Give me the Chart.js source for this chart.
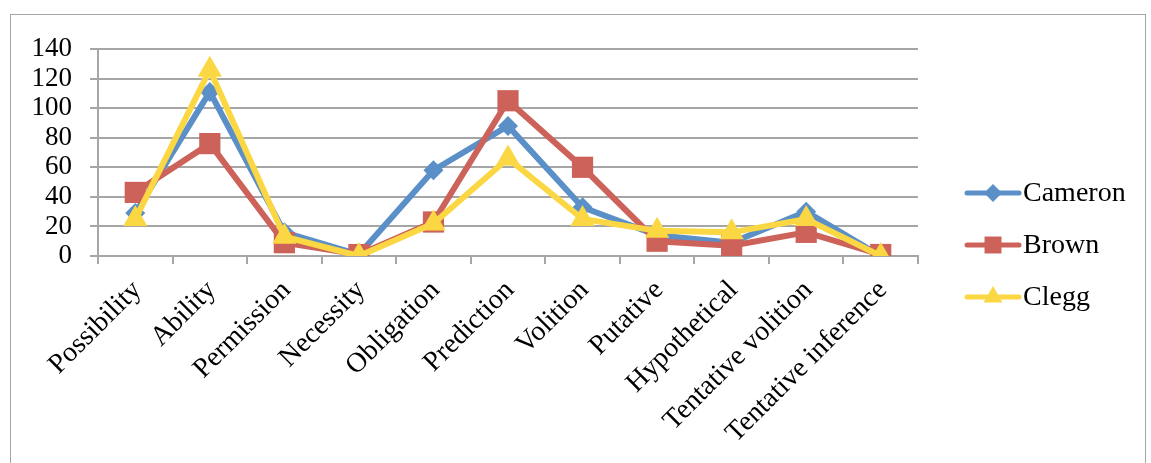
<!DOCTYPE html>
<html>
<head>
<meta charset="utf-8">
<script src="https://cdn.jsdelivr.net/npm/chart.js@4"></script>
<style>
  html, body { margin: 0; padding: 0; background: #fff; }
  #wrap { position: relative; width: 1151px; height: 463px; overflow: hidden; }
  #frame { position: absolute; left: 10px; top: 14px; width: 1136px; height: 480px; border: 1.5px solid #a6a6a6; box-sizing: border-box; }
  canvas { position: absolute; left: 0; top: 0; }
</style>
</head>
<body>
<div id="wrap">
  <div id="frame"></div>
  <canvas id="line-chart" width="1151" height="463"></canvas>
</div>
<script>
var categorie = ["Possibility", "Ability", "Permission", "Necessity", "Obligation", "Prediction",
  "Volition", "Putative", "Hypothetical", "Tentative volition", "Tentative inference"];
var cameron = [29, 111, 16, 1, 58, 88, 33, 14, 9, 30, 0];
var brown = [43, 76, 9, 1, 23, 105, 60, 10, 7, 16, 1];
var clegg = [25, 126, 13, 0, 22, 66, 25, 17, 16, 25, 0];

var serie = [
  { label: "Cameron", dati: cameron, colore: "#5A8FC8", stile: "rectRot", raggio: 10, raggioLeg: 9 },
  { label: "Brown", dati: brown, colore: "#CC6259", stile: "rect", raggio: 15, raggioLeg: 12 },
  { label: "Clegg", dati: clegg, colore: "#FBD843", stile: "triangle", raggio: 14, raggioLeg: 11 }
];

var font = "'Liberation Serif', 'Times New Roman', serif";

var legendaPlugin = {
  id: 'legenda',
  afterDraw: function(chart) {
    var ctx = chart.ctx;
    ctx.save();
    serie.forEach(function(s, i) {
      var y = 193 + i * 52;
      ctx.strokeStyle = s.colore;
      ctx.lineWidth = 5;
      ctx.lineCap = 'round';
      ctx.beginPath();
      ctx.moveTo(967, y);
      ctx.lineTo(1019, y);
      ctx.stroke();
      ctx.fillStyle = s.colore;
      Chart.helpers.drawPoint(ctx, { pointStyle: s.stile, radius: s.raggioLeg, rotation: 0, borderWidth: 0 }, 993, y);
      ctx.fillStyle = '#000';
      ctx.font = "28px " + font;
      ctx.textBaseline = 'middle';
      ctx.textAlign = 'left';
      ctx.fillText(s.label, 1023, y + 1);
    });
    ctx.restore();
  }
};

new Chart(document.getElementById("line-chart"), {
  type: 'line',
  data: {
    labels: categorie,
    datasets: serie.map(function(s, i) {
      return {
        label: s.label,
        data: s.dati,
        borderColor: s.colore,
        backgroundColor: s.colore,
        borderWidth: 6,
        pointStyle: s.stile,
        pointRadius: s.raggio,
        pointBorderWidth: 0,
        pointBackgroundColor: s.colore,
        tension: 0,
        fill: false,
        order: 3 - i
      };
    })
  },
  options: {
    responsive: false,
    animation: false,
    events: [],
    layout: { padding: { top: 49, right: 233, bottom: 0, left: 0 } },
    plugins: {
      legend: { display: false },
      tooltip: { enabled: false }
    },
    scales: {
      x: {
        offset: true,
        afterFit: function(s) { s.height = 207; },
        grid: { offset: true, drawOnChartArea: false, drawTicks: true, tickLength: 8, color: '#a6a6a6', lineWidth: 2 },
        border: { display: true, color: '#a6a6a6', width: 2 },
        ticks: {
          autoSkip: false, minRotation: 45, maxRotation: 45, padding: 10, labelOffset: 2,
          color: '#000', font: { family: font, size: 28 }
        }
      },
      y: {
        min: 0, max: 140,
        afterFit: function(s) { s.width = 98; },
        grid: { color: '#a6a6a6', lineWidth: 2, tickLength: 8 },
        border: { display: true, color: '#a6a6a6', width: 2 },
        ticks: { stepSize: 20, autoSkip: false, padding: 18, color: '#000', font: { family: font, size: 27 } }
      }
    }
  },
  plugins: [legendaPlugin]
});
</script>
</body>
</html>
